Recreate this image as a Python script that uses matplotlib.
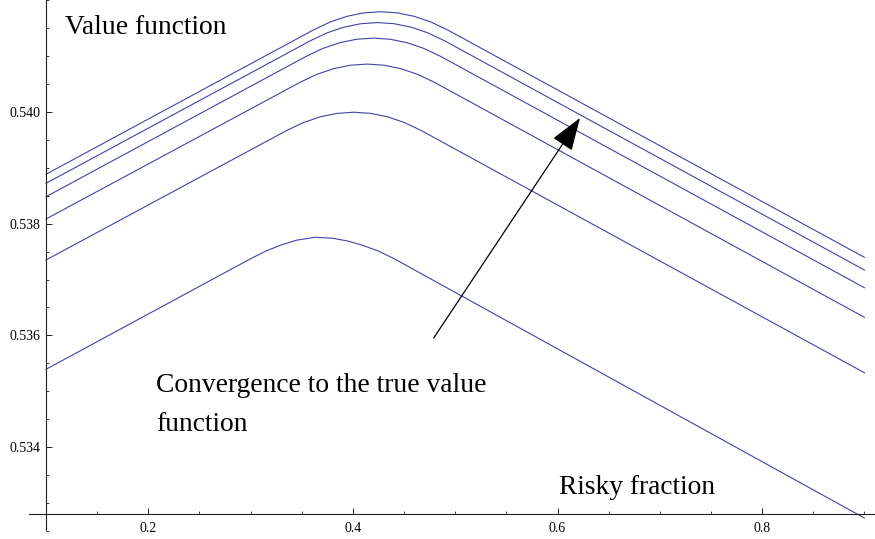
import matplotlib
matplotlib.use("Agg")
import matplotlib.pyplot as plt
from matplotlib.ticker import FixedLocator, MultipleLocator, FormatStrFormatter

plt.rcParams['font.family'] = ['Liberation Serif', 'DejaVu Serif']

# value function iterates, from the first guess (bottom) to the latest (top)
x_it1 = [0.1, 0.30, 0.315, 0.33, 0.345, 0.363, 0.38, 0.395, 0.41, 0.425, 0.44, 0.9]
v_it1 = [0.535393, 0.537373, 0.537510, 0.537620, 0.537705, 0.537757, 0.537740,
         0.537690, 0.537610, 0.537510, 0.537376, 0.532730]

x_it2 = [0.1, 0.335, 0.3515, 0.368, 0.3845, 0.401, 0.4175, 0.434, 0.4505, 0.467, 0.9]
v_it2 = [0.537350, 0.539666, 0.539810, 0.539913, 0.539975, 0.539996, 0.539975, 0.539913, 0.539810, 0.539666, 0.535332]

x_it3 = [0.1, 0.348, 0.3645, 0.381, 0.3975, 0.414, 0.4305, 0.447, 0.4635, 0.480, 0.9]
v_it3 = [0.538084, 0.540528, 0.540672, 0.540775, 0.540837, 0.540858, 0.540837, 0.540775, 0.540672, 0.540528, 0.536324]

x_it4 = [0.1, 0.354, 0.3705, 0.387, 0.4035, 0.420, 0.4365, 0.453, 0.4695, 0.486, 0.9]
v_it4 = [0.538483, 0.540993, 0.541137, 0.541240, 0.541302, 0.541323, 0.541302, 0.541240, 0.541137, 0.540993, 0.536854]

x_it5 = [0.1, 0.358, 0.3745, 0.391, 0.4075, 0.424, 0.4405, 0.457, 0.4735, 0.490, 0.9]
v_it5 = [0.538723, 0.541271, 0.541415, 0.541518, 0.541580, 0.541601, 0.541580, 0.541518, 0.541415, 0.541271, 0.537171]

x_it6 = [0.1, 0.361, 0.3775, 0.394, 0.4105, 0.427, 0.4435, 0.460, 0.4765, 0.493, 0.9]
v_it6 = [0.538885, 0.541465, 0.541609, 0.541712, 0.541774, 0.541795, 0.541774, 0.541712, 0.541609, 0.541465, 0.537398]

iterates = [(x_it1, v_it1), (x_it2, v_it2), (x_it3, v_it3),
            (x_it4, v_it4), (x_it5, v_it5), (x_it6, v_it6)]

x_major = [0.2, 0.4, 0.6, 0.8]
y_major = [0.534, 0.536, 0.538, 0.540]

fig = plt.figure(figsize=(8.75, 5.39), dpi=100)
ax = fig.add_axes([0, 0, 1, 1])

line_color = '#4242a3'
for xs, vs in iterates:
    ax.plot(xs, vs, color=line_color, lw=0.8)

ax.set_xlim(0.05503, 0.91036)
ax.set_ylim(0.532355, 0.542005)

# axes cross at (0.1, 0.5328), Mathematica style
for side in ['top', 'right']:
    ax.spines[side].set_visible(False)
ax.spines['left'].set_position(('data', 0.1))
ax.spines['bottom'].set_position(('data', 0.5328))
ax.spines['left'].set_bounds(0.532516, 0.542005)
ax.spines['bottom'].set_bounds(0.0834, 0.9104)
for side in ['left', 'bottom']:
    ax.spines[side].set_linewidth(0.8)
    ax.spines[side].set_color('#222222')

ax.xaxis.set_major_locator(FixedLocator(x_major))
ax.xaxis.set_minor_locator(MultipleLocator(0.05))
ax.yaxis.set_major_locator(FixedLocator(y_major))
ax.yaxis.set_minor_locator(MultipleLocator(0.0005))
ax.xaxis.set_major_formatter(FormatStrFormatter('%.1f'))
ax.yaxis.set_major_formatter(FormatStrFormatter('%.3f'))
ax.tick_params(which='major', direction='in', length=4.3, width=0.7, color='#222222',
               labelsize=10, pad=6)
ax.tick_params(which='minor', direction='in', length=2.5, width=0.6, color='#222222')
ax.tick_params(axis='y', which='major', pad=4)

ax.text(0.1186, 0.541400, 'Value function', fontsize=19.8, va='baseline')
ax.text(0.2075, 0.534985, 'Convergence to the true value', fontsize=19.8, va='baseline')
ax.text(0.2075, 0.534288, 'function', fontsize=19.8, va='baseline')
ax.text(0.601, 0.533165, 'Risky fraction', fontsize=19.8, va='baseline')

ax.annotate('', xy=(0.622, 0.539893), xytext=(0.479, 0.535954),
            arrowprops=dict(arrowstyle='-|>,head_length=1.3,head_width=0.45',
                            color='black', lw=0.9, mutation_scale=16,
                            shrinkA=0, shrinkB=0))

fig.savefig('out.png', dpi=100)
